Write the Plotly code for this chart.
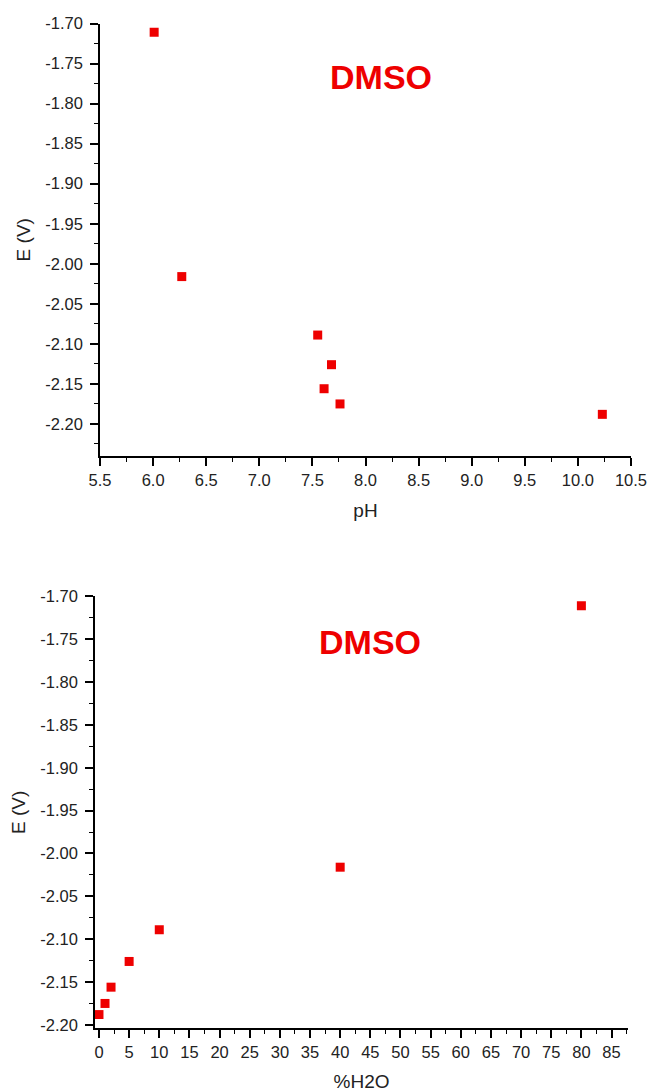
import plotly.graph_objects as go

# Reduction potential of the complex in DMSO/water mixtures
potential_v = [-1.711, -2.016, -2.089, -2.126, -2.156, -2.175, -2.188]
ph_values = [6.01, 6.27, 7.55, 7.68, 7.61, 7.76, 10.23]
water_pct = [80, 40, 10, 5, 2, 1, 0]
solvent_label = "DMSO"

# Potential axis ticks, printed with a plain hyphen as the sign
e_ticks = [-1.70, -1.75, -1.80, -1.85, -1.90, -1.95, -2.00, -2.05, -2.10, -2.15, -2.20]
e_ticktext = [f"{v:.2f}" for v in e_ticks]

RED = "#ee0000"
FONT = "Liberation Sans, Arial, sans-serif"
W, H = 649, 1092

fig = go.Figure()

fig.add_trace(go.Scatter(
    x=ph_values, y=potential_v, mode="markers",
    marker=dict(symbol="square", size=9, color=RED),
    xaxis="x", yaxis="y", showlegend=False,
))
fig.add_trace(go.Scatter(
    x=water_pct, y=potential_v, mode="markers",
    marker=dict(symbol="square", size=9, color=RED),
    xaxis="x2", yaxis="y2", showlegend=False,
))

tick_font = dict(family=FONT, size=16.5, color="#222222")
title_font = dict(family=FONT, size=19, color="#222222")
minor_ticks = dict(ticklen=4, tickwidth=1.3, tickcolor="black", ticks="outside")


def axis_style(**kw):
    base = dict(
        showline=True, linecolor="black", linewidth=1.7,
        ticks="outside", ticklen=8, tickwidth=1.5, tickcolor="black",
        showgrid=False, zeroline=False, tickfont=tick_font,
        mirror=False, automargin=False,
    )
    base.update(kw)
    return base


fig.update_layout(
    width=W, height=H,
    margin=dict(l=0, r=0, t=0, b=0, pad=0),
    paper_bgcolor="white", plot_bgcolor="white",
    xaxis=axis_style(
        domain=[100 / W, 631 / W], anchor="y",
        range=[5.5, 10.5], dtick=0.5, tick0=5.5, tickformat=".1f",
        minor=dict(dtick=0.25, **minor_ticks),
        title=dict(text="pH", font=title_font, standoff=16),
    ),
    yaxis=axis_style(
        domain=[1 - 456 / H, 1 - 23.5 / H], anchor="x",
        range=[-2.24, -1.70], tickmode="array",
        tickvals=e_ticks, ticktext=e_ticktext, ticklabelstandoff=4,
        minor=dict(dtick=0.025, tick0=-1.70, **minor_ticks),
        title=dict(text="E (V)", font=title_font, standoff=10),
    ),
    xaxis2=axis_style(
        domain=[95 / W, 628 / W], anchor="y2",
        range=[-0.66, 87.73], dtick=5, tick0=0,
        minor=dict(dtick=2.5, **minor_ticks),
        title=dict(text="%H2O", font=title_font, standoff=16),
    ),
    yaxis2=axis_style(
        domain=[1 - 1028.3 / H, 1 - 596.4 / H], anchor="x2",
        range=[-2.204, -1.70], tickmode="array",
        tickvals=e_ticks, ticktext=e_ticktext, ticklabelstandoff=4,
        minor=dict(dtick=0.025, tick0=-1.70, **minor_ticks),
        title=dict(text="E (V)", font=title_font, standoff=10),
    ),
    annotations=[
        dict(text=f"<b>{solvent_label}</b>", xref="paper", yref="paper",
             x=381 / W, y=1 - 77 / H, xanchor="center", yanchor="middle",
             showarrow=False, font=dict(family=FONT, size=34, color=RED)),
        dict(text=f"<b>{solvent_label}</b>", xref="paper", yref="paper",
             x=370 / W, y=1 - 642 / H, xanchor="center", yanchor="middle",
             showarrow=False, font=dict(family=FONT, size=34, color=RED)),
    ],
)

fig.write_html("out.html")
